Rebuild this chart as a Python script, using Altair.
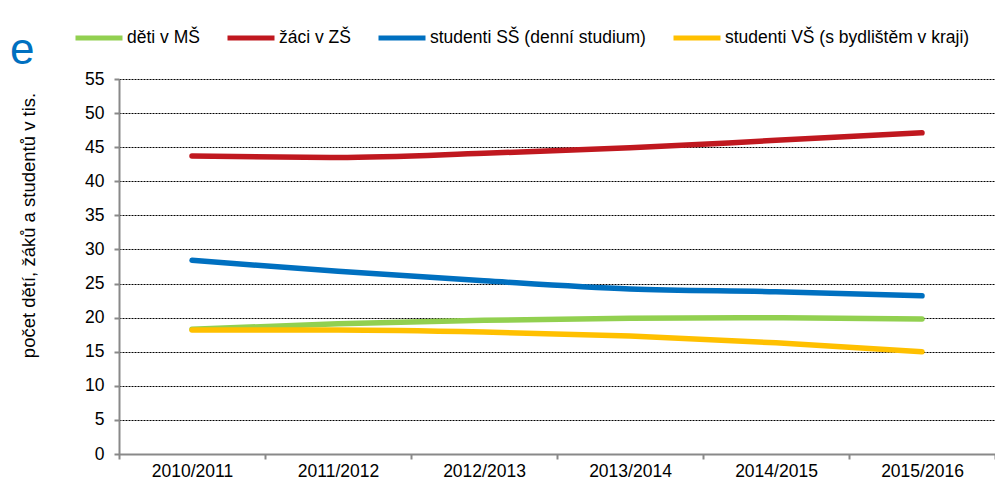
import altair as alt
import pandas as pd

years = ["2010/2011", "2011/2012", "2012/2013", "2013/2014", "2014/2015", "2015/2016"]
series_names = ["děti v MŠ", "žáci v ZŠ", "studenti SŠ (denní studium)", "studenti VŠ (s bydlištěm v kraji)"]
colors = ["#92D050", "#C0181F", "#0070C0", "#FFC000"]

deti_ms = [18.3, 19.1, 19.6, 19.9, 20.0, 19.8]
zaci_zs = [43.7, 43.5, 44.1, 44.9, 46.0, 47.1]
studenti_ss = [28.4, 26.8, 25.4, 24.2, 23.8, 23.2]
studenti_vs = [18.2, 18.2, 17.9, 17.3, 16.3, 15.0]

values = [deti_ms, zaci_zs, studenti_ss, studenti_vs]
rows = []
for name, vals in zip(series_names, values):
    for y, v in zip(years, vals):
        rows.append({"rok": y, "hodnota": v, "serie": name})
df = pd.DataFrame(rows)

FONT = "Liberation Sans"
FS = 17.5

lines = alt.Chart(df).mark_line(strokeWidth=5.5, strokeCap="round", interpolate="monotone").encode(
    x=alt.X("rok:O", sort=years, scale=alt.Scale(type="band", paddingInner=0, paddingOuter=0),
            axis=alt.Axis(title=None, labelAngle=0, tickBand="extent", tickSize=5, tickColor="#898989",
                          tickWidth=2, domainColor="#898989", domainWidth=2, labelPadding=3,
                          labelFontSize=FS, labelFont=FONT, labelFontWeight="normal",
                          labelColor="#000000", grid=False)),
    y=alt.Y("hodnota:Q", scale=alt.Scale(domain=[0, 55], nice=False),
            axis=alt.Axis(values=list(range(0, 56, 5)), title="počet dětí, žáků a studentů v tis.",
                          titleFont=FONT, titleFontSize=18.5, titleFontWeight="normal", titleColor="#000000",
                          titleX=-91, titleY=146, titleAlign="center", titleBaseline="middle", titleAngle=270,
                          tickSize=5, tickColor="#898989", tickWidth=2, domainColor="#898989", domainWidth=2,
                          labelPadding=10, labelFontSize=FS, labelFont=FONT, labelFontWeight="normal",
                          labelColor="#000000",
                          grid=True, gridColor="#000000", gridDash=[2, 1], gridWidth=1)),
    color=alt.Color("serie:N", sort=series_names,
                    scale=alt.Scale(domain=series_names, range=colors),
                    legend=alt.Legend(title=None, orient="none", direction="horizontal",
                                      legendX=-46, legendY=-67, symbolType="stroke", symbolSize=2209,
                                      symbolStrokeWidth=5, labelOffset=2, columnPadding=17,
                                      labelFont=FONT, labelFontSize=FS, labelFontWeight="normal",
                                      labelColor="#000000", labelLimit=0,
                                      padding=0, offset=0)),
)

e_text = alt.Chart(pd.DataFrame({"t": ["e"]})).mark_text(
    text="e", fontSize=44, font=FONT, color="#0070C0", align="left", baseline="alphabetic"
).encode(x=alt.value(-109), y=alt.value(-15))

chart = alt.layer(lines, e_text).properties(
    width=876, height=375,
    autosize=alt.AutoSizeParams(type="none"),
    padding={"left": 111, "top": 71, "right": 0, "bottom": 25},
).configure_view(stroke=None)

chart.save("out.html", embed_options={"renderer": "svg", "actions": False})
